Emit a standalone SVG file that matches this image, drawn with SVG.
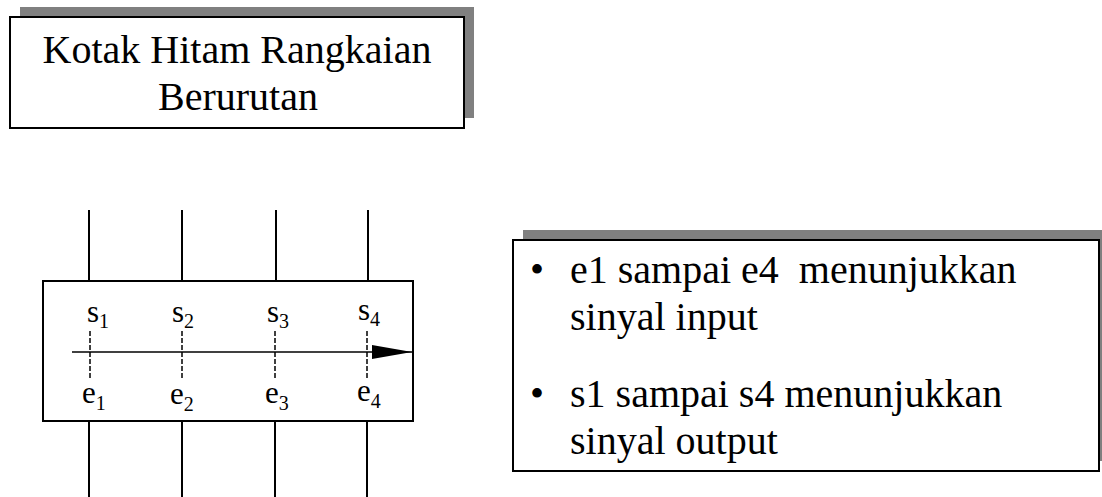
<svg xmlns="http://www.w3.org/2000/svg" width="1102" height="497" viewBox="0 0 1102 497" font-family="'Liberation Serif', 'DejaVu Serif', serif">
  <style>
    text { font-family: 'Liberation Serif', 'DejaVu Serif', serif; fill: #000; }
    .big { font-size: 40px; }
    .lbl { font-size: 31px; }
    .sub { font-size: 20px; }
    .shadow { fill: #808080; }
    .panel { fill: #fff; stroke: #000; stroke-width: 2; }
    .wire { stroke: #000; stroke-width: 2; fill: none; }
    .tick { stroke: #000; stroke-width: 1.5; stroke-dasharray: 5 2; fill: none; }
  </style>
  <defs>
    <marker id="arrowhead" markerWidth="40" markerHeight="14" refX="40" refY="7" orient="auto" markerUnits="userSpaceOnUse">
      <path d="M0,0 L40,7 L0,14 Z" fill="#000"/>
    </marker>
  </defs>

  <rect width="1102" height="497" fill="#fff"/>

  <!-- title panel -->
  <g id="title">
    <rect class="shadow" x="20" y="7" width="454" height="111"/>
    <rect class="panel" x="10" y="17" width="454" height="111"/>
    <text class="big" x="237" y="63" text-anchor="middle">Kotak Hitam Rangkaian</text>
    <text class="big" x="238" y="110" text-anchor="middle">Berurutan</text>
  </g>

  <!-- sequential black box -->
  <g id="blackbox">
    <rect class="panel" x="43" y="281" width="370" height="140"/>
    <text class="lbl" x="87" y="322">s<tspan class="sub" dy="6">1</tspan></text>
    <text class="lbl" x="172" y="322">s<tspan class="sub" dy="6">2</tspan></text>
    <text class="lbl" x="267" y="322">s<tspan class="sub" dy="6">3</tspan></text>
    <text class="lbl" x="358" y="320">s<tspan class="sub" dy="6">4</tspan></text>
    <text class="lbl" x="82" y="403">e<tspan class="sub" dy="7">1</tspan></text>
    <text class="lbl" x="170" y="404">e<tspan class="sub" dy="7">2</tspan></text>
    <text class="lbl" x="265" y="403">e<tspan class="sub" dy="7">3</tspan></text>
    <text class="lbl" x="357" y="401">e<tspan class="sub" dy="7">4</tspan></text>
  </g>

  <!-- legend panel -->
  <g id="legend">
    <rect class="shadow" x="523" y="230" width="586" height="231"/>
    <rect class="panel" x="513" y="240" width="586" height="231"/>
    <text class="big" x="530" y="283">•</text>
    <text class="big" x="570" y="283" xml:space="preserve">e1 sampai e4  menunjukkan</text>
    <text class="big" x="570" y="330">sinyal input</text>
    <text class="big" x="530" y="407">•</text>
    <text class="big" x="570" y="407">s1 sampai s4 menunjukkan</text>
    <text class="big" x="570" y="454">sinyal output</text>
  </g>

  <!-- connectors: pins, time axis and sample ticks -->
  <g id="connectors">
    <line class="wire" x1="89" y1="210" x2="89" y2="281"/>
    <line class="wire" x1="182" y1="210" x2="182" y2="281"/>
    <line class="wire" x1="276" y1="210" x2="276" y2="281"/>
    <line class="wire" x1="368" y1="210" x2="368" y2="281"/>
    <line class="wire" x1="89" y1="421" x2="89" y2="497"/>
    <line class="wire" x1="182" y1="421" x2="182" y2="497"/>
    <line class="wire" x1="275" y1="421" x2="275" y2="497"/>
    <line class="wire" x1="367" y1="421" x2="367" y2="497"/>
    <line x1="72" y1="352" x2="412" y2="352" stroke="#000" stroke-width="1.5" marker-end="url(#arrowhead)"/>
    <line class="tick" x1="90" y1="331" x2="90" y2="380"/>
    <line class="tick" x1="182" y1="331" x2="182" y2="380"/>
    <line class="tick" x1="275" y1="331" x2="275" y2="380"/>
    <line class="tick" x1="367" y1="331" x2="367" y2="380"/>
  </g>
</svg>
